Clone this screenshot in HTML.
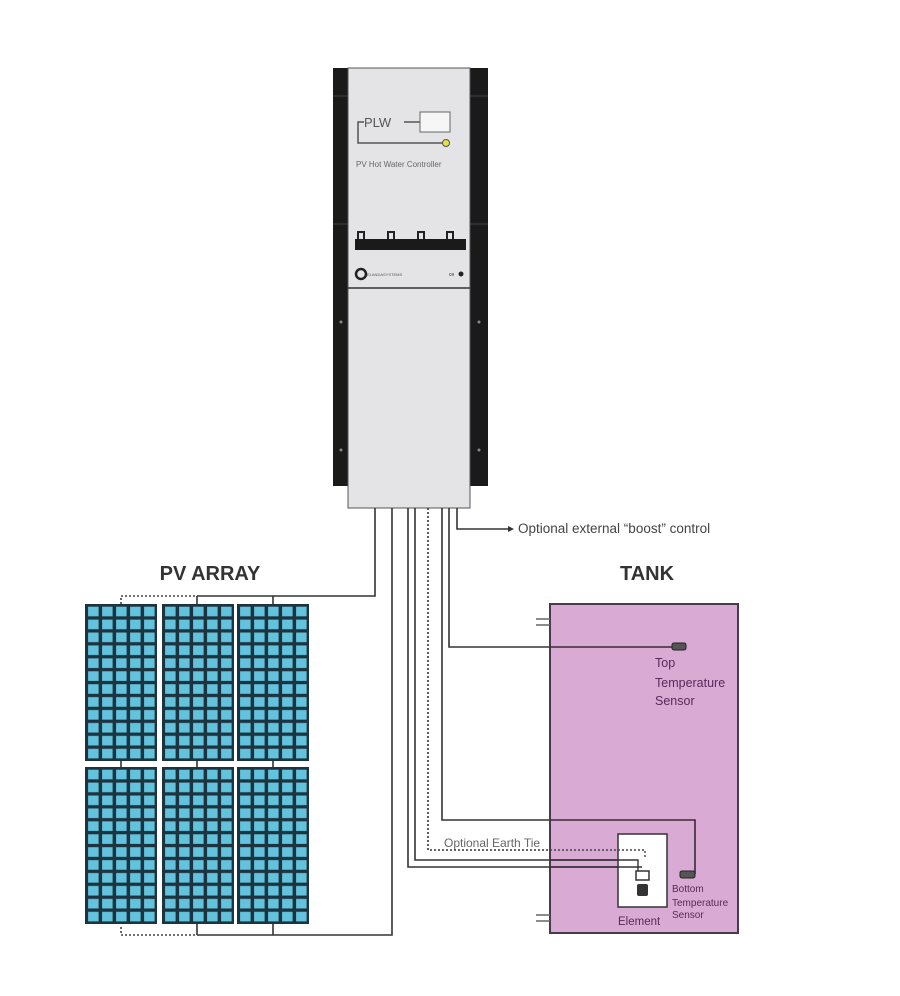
<!DOCTYPE html>
<html><head><meta charset="utf-8"><style>
html,body{margin:0;padding:0;background:#fff;}
svg{display:block;}
text{font-family:"Liberation Sans",sans-serif;}
</style></head><body>
<svg width="900" height="996" viewBox="0 0 900 996" xmlns="http://www.w3.org/2000/svg">
<defs>
<pattern id="cells" patternUnits="objectBoundingBox" patternContentUnits="objectBoundingBox" width="0.2" height="0.08333">
<rect x="0" y="0" width="0.2" height="0.08333" fill="#1c3340"/>
<rect x="0.03" y="0.011" width="0.15" height="0.062" fill="#63c3dd"/>
</pattern>
</defs>
<!-- Controller -->
<rect x="333" y="68" width="16" height="418" fill="#1a1a1a"/>
<rect x="470" y="68" width="18" height="418" fill="#1a1a1a"/>
<line x1="333" y1="96" x2="349" y2="96" stroke="#444"/>
<line x1="470" y1="96" x2="488" y2="96" stroke="#444"/>
<line x1="333" y1="224" x2="349" y2="224" stroke="#444"/>
<line x1="470" y1="224" x2="488" y2="224" stroke="#444"/>
<rect x="348" y="68" width="122" height="440" fill="#e4e4e6" stroke="#555" stroke-width="1"/>
<line x1="348" y1="288" x2="470" y2="288" stroke="#333" stroke-width="1.5"/>
<circle cx="341" cy="322" r="1.5" fill="#888"/><circle cx="479" cy="322" r="1.5" fill="#888"/>
<circle cx="341" cy="450" r="1.5" fill="#888"/><circle cx="479" cy="450" r="1.5" fill="#888"/>
<path d="M358 140 V122 H364" fill="none" stroke="#555" stroke-width="1.5"/>
<path d="M358 140 V143 H445" fill="none" stroke="#555" stroke-width="1.5"/>
<text x="364" y="127" font-size="13" fill="#555">PLW</text>
<line x1="404" y1="122" x2="420" y2="122" stroke="#555" stroke-width="1.5"/>
<rect x="420" y="112" width="30" height="20" fill="#f6f6f6" stroke="#666"/>
<circle cx="446" cy="143" r="3.5" fill="#e8e040" stroke="#555"/>
<text x="356" y="167" font-size="8" fill="#666">PV Hot Water Controller</text>
<g fill="none" stroke="#222" stroke-width="2">
<path d="M358 240 V232 H364 V240"/><path d="M388 240 V232 H394 V240"/><path d="M418 240 V232 H424 V240"/><path d="M447 240 V232 H453 V240"/>
</g>
<rect x="355" y="239" width="111" height="11" fill="#1a1a1a"/>
<circle cx="361" cy="274" r="5" fill="none" stroke="#222" stroke-width="2.5"/>
<text x="367" y="276" font-size="4" fill="#555">ELANDASYSTEMS</text>
<circle cx="461" cy="274" r="2.5" fill="#222"/><text x="449" y="276" font-size="5" fill="#333">ce</text>
<!-- wires -->
<g fill="none" stroke="#333" stroke-width="1.6">
<path d="M375 508 V596 H197"/>
<path d="M392 508 V935 H197"/>
<path d="M408 508 V867 H640"/>
<path d="M415 508 V860 H635"/>
<path d="M442 508 V820 H695 V874"/>
<path d="M449 508 V647 H680"/>
<path d="M457 508 V529 H508"/>
</g>
<path d="M428 508 V850 H645 V860" fill="none" stroke="#333" stroke-width="1.6" stroke-dasharray="2,2"/>
<path d="M121 604 V596 H197 M121 927 V935 H197" fill="none" stroke="#444" stroke-width="1.6" stroke-dasharray="2,2"/>
<polygon points="508,526 514,529 508,532" fill="#333"/>
<text x="518" y="533" font-size="13.5" fill="#444">Optional external “boost” control</text>
<!-- PV array -->
<text x="210" y="580" font-size="20" font-weight="bold" fill="#333" text-anchor="middle">PV ARRAY</text>
<g stroke="#333" stroke-width="1.6">
<line x1="197" y1="596" x2="197" y2="605"/><line x1="273" y1="596" x2="273" y2="605"/>
<line x1="121" y1="760" x2="121" y2="768"/><line x1="197" y1="760" x2="197" y2="768"/><line x1="273" y1="760" x2="273" y2="768"/>
<line x1="197" y1="923" x2="197" y2="935"/><line x1="273" y1="923" x2="273" y2="935"/>
</g>
<g stroke="#1c3340" stroke-width="2">
<rect x="86" y="605" width="70" height="155" fill="url(#cells)"/>
<rect x="163" y="605" width="70" height="155" fill="url(#cells)"/>
<rect x="238" y="605" width="70" height="155" fill="url(#cells)"/>
<rect x="86" y="768" width="70" height="155" fill="url(#cells)"/>
<rect x="163" y="768" width="70" height="155" fill="url(#cells)"/>
<rect x="238" y="768" width="70" height="155" fill="url(#cells)"/>
</g>
<!-- Tank -->
<text x="647" y="580" font-size="20" font-weight="bold" fill="#333" text-anchor="middle">TANK</text>
<rect x="550" y="604" width="188" height="329" fill="#d8aad4" stroke="#4a3a48" stroke-width="2"/>
<g stroke="#666" stroke-width="1.5"><line x1="536" y1="619" x2="550" y2="619"/><line x1="536" y1="625" x2="550" y2="625"/>
<line x1="536" y1="915" x2="550" y2="915"/><line x1="536" y1="921" x2="550" y2="921"/></g>
<g fill="none" stroke="#3a2a38" stroke-width="1.6">
<path d="M550 647 H680"/><path d="M550 820 H695 V874"/><path d="M550 860 H635"/><path d="M550 867 H640"/>
</g>
<rect x="672" y="643" width="14" height="7" rx="2" fill="#555" stroke="#222"/>
<text font-size="12.5" fill="#5a2a58"><tspan x="655" y="667">Top</tspan><tspan x="655" y="687">Temperature</tspan><tspan x="655" y="705">Sensor</tspan></text>
<rect x="618" y="834" width="49" height="73" fill="#fff" stroke="#333" stroke-width="1.5"/>
<path d="M550 850 H645 V858" fill="none" stroke="#444" stroke-width="1.4" stroke-dasharray="2,2"/>
<path d="M550 860 H638 V872 M550 867 H642" fill="none" stroke="#333" stroke-width="1.4"/>
<rect x="636" y="871" width="13" height="9" fill="#fff" stroke="#333" stroke-width="1.5"/>
<rect x="637" y="884" width="11" height="12" rx="2" fill="#333"/>
<rect x="680" y="871" width="15" height="7" rx="2" fill="#555" stroke="#222"/>
<text x="618" y="925" font-size="11.5" fill="#5a2a58">Element</text>
<text font-size="10" fill="#5a2a58"><tspan x="672" y="892">Bottom</tspan><tspan x="672" y="906">Temperature</tspan><tspan x="672" y="918">Sensor</tspan></text>
<text x="444" y="847" font-size="12" fill="#666">Optional Earth Tie</text>
</svg>
</body></html>
